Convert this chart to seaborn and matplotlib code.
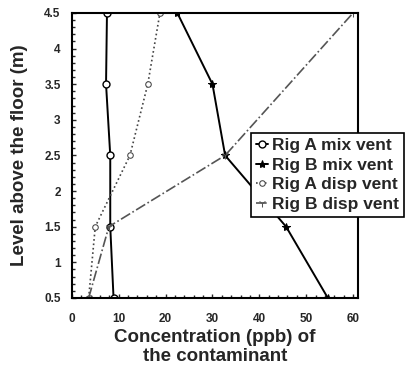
import matplotlib
matplotlib.use("Agg")
import matplotlib.pyplot as plt
import seaborn as sns
import numpy as np
from matplotlib.ticker import MultipleLocator

# Dados
nivel = [0.5, 1.5, 2.5, 3.5, 4.5]
rig_a_mix = [8.9, 8.2, 8.2, 7.3, 7.5]
rig_b_mix = [54.6, 45.7, 32.7, 30.0, 22.5]
rig_a_desl = [3.6, 5.0, 12.4, 16.2, 18.8]
nivel_b_desl = [0.5, 1.5, 2.5, 4.5]
rig_b_desl = [3.6, 7.9, 32.7, 60.0]

rotulos = ["Rig A mix vent", "Rig B mix vent", "Rig A disp vent", "Rig B disp vent"]
x_ticks = [0, 10, 20, 30, 40, 50, 60]
y_ticks = [0.5, 1, 1.5, 2, 2.5, 3, 3.5, 4, 4.5]

sns.set_style("ticks")
plt.rcParams["font.family"] = ["Liberation Sans", "DejaVu Sans"]
plt.rcParams["font.weight"] = "bold"

fig = plt.figure(figsize=(4.08, 3.8), dpi=100)
ax = fig.add_axes([0.176, 0.216, 0.701, 0.75])

sns.lineplot(x=rig_a_mix, y=nivel, orient="y", sort=False, ax=ax, color="black", lw=1.4,
             marker="o", markersize=5, markerfacecolor="white", markeredgecolor="black",
             markeredgewidth=1, label=rotulos[0])
sns.lineplot(x=rig_b_mix, y=nivel, orient="y", sort=False, ax=ax, color="black", lw=1.4,
             marker="*", markersize=6, markeredgecolor="black", label=rotulos[1])
sns.lineplot(x=rig_a_desl, y=nivel, orient="y", sort=False, ax=ax, color="#444444", lw=1.2,
             linestyle=":", marker="o", markersize=4, markerfacecolor="white",
             markeredgecolor="#444444", label=rotulos[2])
sns.lineplot(x=rig_b_desl, y=nivel_b_desl, orient="y", sort=False, ax=ax, color="#555555", lw=1.2,
             linestyle="-.", marker="1", markersize=6, markeredgecolor="#555555", label=rotulos[3])

ax.set_xlim(0, 61)
ax.set_ylim(0.5, 4.5)
ax.set_xticks(x_ticks)
ax.set_yticks(y_ticks)
ax.set_yticklabels(["0.5", "1", "1.5", "2", "2.5", "3", "3.5", "4", "4.5"])
ax.xaxis.set_minor_locator(MultipleLocator(2))
ax.yaxis.set_minor_locator(MultipleLocator(0.1))
ax.tick_params(direction="in", which="both", labelsize=8.5, width=1, length=3)
ax.tick_params(axis="x", pad=11)
ax.tick_params(axis="y", pad=8)
ax.tick_params(which="minor", length=2)
for s in ax.spines.values():
    s.set_linewidth(1.5)
    s.set_color("black")

ax.set_xlabel("Concentration (ppb) of\nthe contaminant", fontsize=13.5, fontweight="bold",
              linespacing=1.1, labelpad=3)
ax.set_ylabel("Level above the floor (m)", fontsize=13.5, fontweight="bold", labelpad=12)

leg = ax.legend(loc="upper left", bbox_to_anchor=(0.615, 0.65), bbox_transform=fig.transFigure,
                frameon=True, fancybox=False, fontsize=12.5, handlelength=0.7, handletextpad=0.2,
                borderpad=0.3, labelspacing=0.25, borderaxespad=0)
leg.get_frame().set_edgecolor("black")
leg.get_frame().set_linewidth(1.2)
leg.get_frame().set_alpha(1)
for t in leg.get_texts():
    t.set_fontweight("bold")

fig.savefig("out.png", dpi=100)
